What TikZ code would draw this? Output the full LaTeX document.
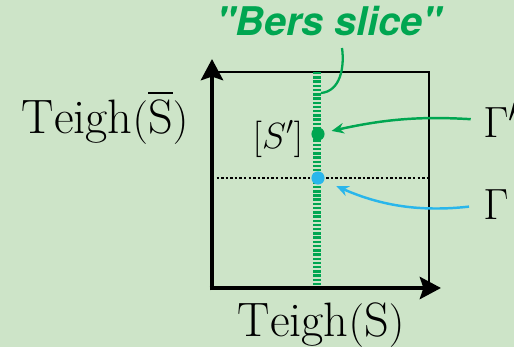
\documentclass[tikz,border=0pt]{standalone}
\usepackage{amsmath,amssymb}
\usepackage{fontspec}
\newfontfamily\bersfont{TeX Gyre Heros}
\usetikzlibrary{arrows.meta}
\definecolor{SliceBg}{RGB}{205,228,200}
\definecolor{SliceGreen}{RGB}{0,166,81}
\definecolor{SliceBlue}{RGB}{41,182,235}

\begin{document}
\begin{tikzpicture}[x=0.02cm, y=-0.02cm,
  every node/.style={inner sep=0pt, font=\fontsize{27.5}{33}\selectfont},
  axis/.style={line width=2.6pt, -{Stealth[length=12pt, width=12.5pt, inset=2pt]}},
  slice/.style={SliceGreen, line width=4pt, dash pattern=on 1.4pt off 1.0pt},
  pt/.style={circle, minimum size=7.5pt}]
\fill[SliceBg] (0,0) rectangle (514,347);
\useasboundingbox (0,0) rectangle (514,347);

\coordinate (o) at (212,288);
\coordinate (st) at (317,72);
\coordinate (sb) at (317,288);
\draw[line width=1.1pt] (212,72) -- (429,72) -- (429,288);
\draw[line width=1.5pt, dash pattern=on 1.4pt off 1.2pt] (212,178) -- (429,178);
\draw[slice] (st) -- (sb);
\draw[axis] ([yshift=-1.3pt]o) -- (212,59);
\draw[axis] ([xshift=-1.3pt]o) -- (441,288);

\node[pt, fill=SliceGreen] (sp) at (318,134) {};
\node[pt, fill=SliceBlue] (bp) at (318,178) {};

\node[anchor=base] (ys) at (105,134) {$\mathrm{Teigh}(\overline{\mathrm{S}})$};
\node[anchor=base] (xs) at (321,337) {$\mathrm{Teigh}(\mathrm{S})$};
\node[font=\fontsize{22.5}{27}\selectfont] (sl) at (278,139) {$[S']$};

\node[anchor=base west] (gp) at (483,138) {$\Gamma'$};
\node[anchor=base west] (g) at (483,220) {$\Gamma$};
\draw[SliceGreen, line width=1.4pt, -{Stealth[length=7pt, width=6pt]}, shorten <=7pt, shorten >=4pt] (gp.west) to[bend right=8] (sp);
\draw[SliceBlue, line width=1.4pt, -{Stealth[length=7pt, width=6pt]}, shorten <=8pt, shorten >=7.5pt] (g.west) to[bend left=15] (bp);

\node[anchor=base, text=SliceGreen, font=\bersfont\bfseries\itshape\fontsize{22.5}{27}\selectfont] (bers) at (329,36) {"Bers slice"};
\coordinate (bs) at (342,48);
\coordinate (sc) at (321,93);
\draw[SliceGreen, line width=1.3pt] (bs) to[out=-82, in=5] (sc);
\end{tikzpicture}
\end{document}
